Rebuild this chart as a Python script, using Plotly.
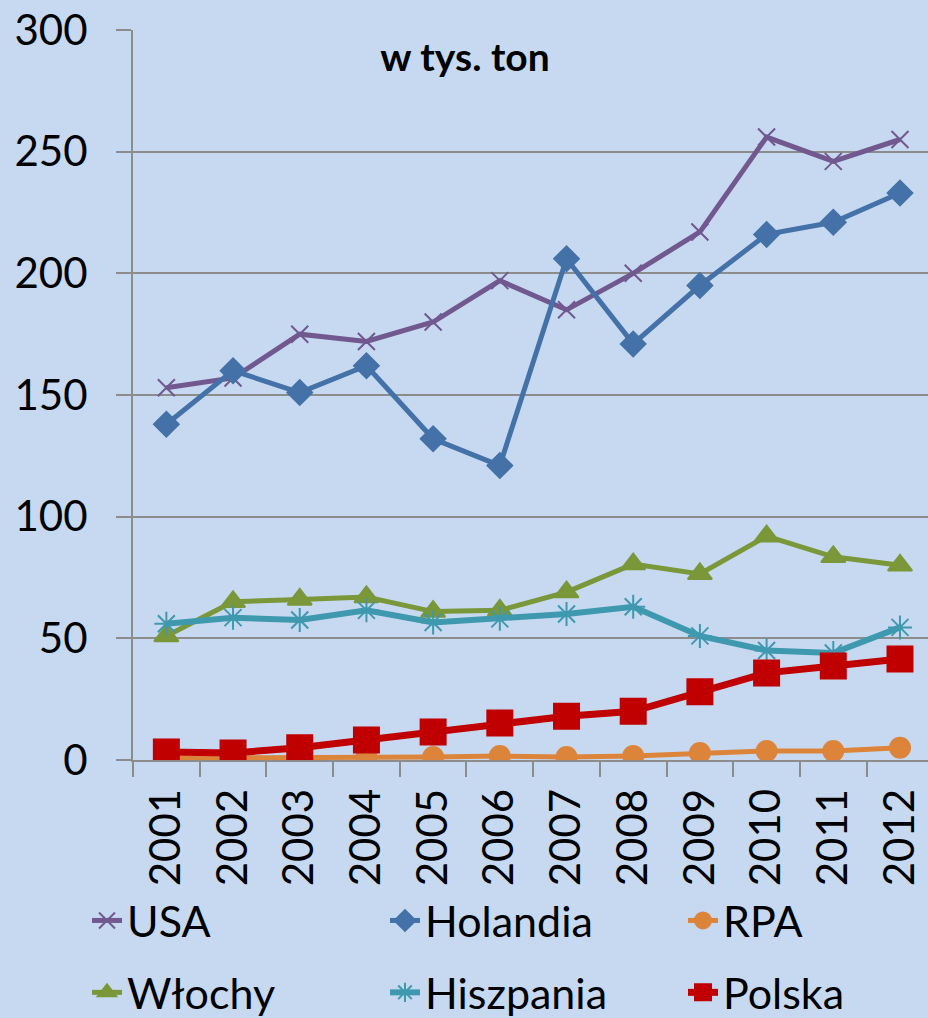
import plotly.graph_objects as go

years = ["2001", "2002", "2003", "2004", "2005", "2006", "2007", "2008", "2009", "2010", "2011", "2012"]
usa = [153, 157, 175, 172, 180, 197, 185, 200, 217, 256, 246, 255]
holandia = [138, 160, 151, 162, 132, 121, 206, 171, 195, 216, 221, 233]
rpa = [0.8, 0.8, 0.8, 1.2, 1.2, 1.6, 1.2, 1.6, 2.9, 3.7, 3.7, 5.0]
wlochy = [51, 65, 66, 67, 61, 61.5, 69, 80.5, 76.5, 92, 83.5, 80]
hiszpania = [56, 58.5, 57.5, 61.5, 56.5, 58, 60, 63, 51, 45, 44, 54.5]
polska = [3.3, 2.9, 5.0, 8.2, 11.5, 15.2, 18, 20, 28, 35.8, 38.6, 41.5]

FONT = "Lato"
BG = "#c6d9f1"
GRID = "#8c8c8c"

# name, values, colour, symbol, size, line width, legend column, row
series = [
    ("USA", usa, "#71588f", "x-thin-open", 17, 5, "legend", 0),
    ("Holandia", holandia, "#4472a8", "diamond", 19, 5, "legend2", 0),
    ("RPA", rpa, "#dd843b", "circle", 20, 5, "legend3", 0),
    ("Włochy", wlochy, "#7a9739", "triangle-up", 21, 5, "legend", 1),
    ("Hiszpania", hiszpania, "#3f99ae", "asterisk-open", 20, 6, "legend2", 1),
    ("Polska", polska, "#c00000", "square", 25, 7, "legend3", 1),
]

fig = go.Figure()
for n, vals, col, sym, size, lw, lg, row in series:
    fig.add_trace(go.Scatter(
        x=years, y=vals, name=n, mode="lines+markers",
        line=dict(color=col, width=lw),
        marker=dict(symbol=sym, size=size, color=col,
                    line=dict(color=col, width=2)),
        legend=lg, legendgroup=f"g{row}_{lg}", legendrank=row,
    ))

def leg(xpx):
    return dict(orientation="v", xref="container", yref="container",
                x=xpx/928, y=1 - 886/1018, xanchor="left", yanchor="top",
                bgcolor="rgba(0,0,0,0)", font=dict(family=FONT, size=43),
                itemwidth=30, tracegroupgap=13)

fig.update_layout(
    width=928, height=1018,
    paper_bgcolor=BG, plot_bgcolor=BG,
    margin=dict(l=133, r=0, t=30, b=258, autoexpand=False),
    font=dict(family=FONT, size=42, color="#000000"),
    title=dict(text="<b>w tys. ton</b>", x=465/928, xref="container",
               y=1 - 57/1018, yref="container", xanchor="center", yanchor="middle",
               font=dict(family=FONT, size=39, color="#000000")),
    xaxis=dict(type="category", range=[-0.5, 11.42], tickson="boundaries",
               ticks="outside", ticklen=15, tickwidth=2, tickcolor=GRID,
               showline=True, linecolor=GRID, linewidth=2, automargin=False,
               showgrid=False, tickangle=-90, ticklabelstandoff=10,
               tickfont=dict(size=42)),
    yaxis=dict(range=[0, 300], tick0=0, dtick=50, ticks="outside", ticklen=15,
               tickwidth=2, tickcolor=GRID, showline=True, linecolor=GRID, linewidth=2,
               showgrid=True, gridcolor=GRID, gridwidth=2, zeroline=False, automargin=False,
               ticklabelstandoff=20, tickfont=dict(size=42)),
    legend=leg(87), legend2=leg(385), legend3=leg(683),
    showlegend=True,
)

fig.write_html("out.html", config={"displayModeBar": False},
               post_script="document.body.style.margin='0';document.body.style.overflow='hidden';")
